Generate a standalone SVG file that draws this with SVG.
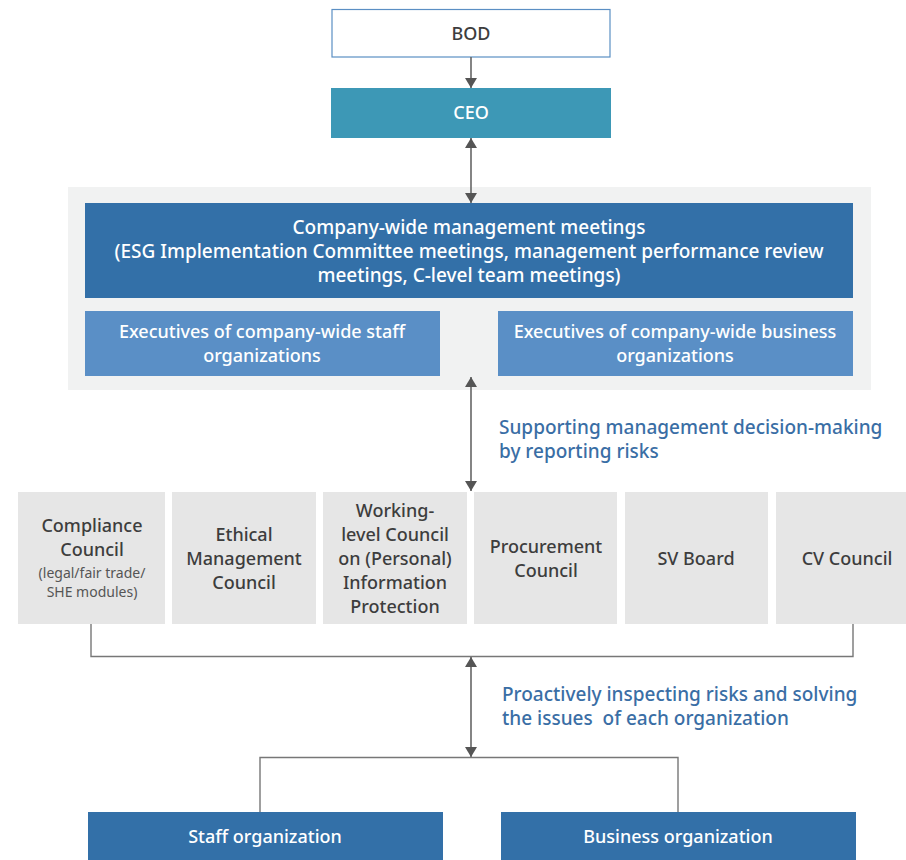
<svg xmlns="http://www.w3.org/2000/svg" width="906" height="860" viewBox="0 0 906 860">
  <style>
    text { font-family: "Noto Sans", "Open Sans", sans-serif; text-anchor: middle; }
    .dark { fill: #3370a8; }
    .light { fill: #5a8fc6; }
    .council { fill: #e6e6e6; }
    .w { fill: #ffffff; font-size: 18px; font-weight: 500; }
    .wl { fill: #ffffff; font-size: 19px; font-weight: 500; }
    .g { fill: #3d3d3d; font-size: 18px; font-weight: 500; }
    .s { fill: #555555; font-size: 14px; }
    .lbl { fill: #3a6ea5; font-size: 19px; font-weight: 500; text-anchor: start; }
    .line { stroke: #777777; stroke-width: 1.4; fill: none; }
    .arrow { stroke: #666666; stroke-width: 1.6; fill: none; }
  </style>
  <defs>
    <marker id="head" viewBox="0 0 10 12" refX="10" refY="6" markerWidth="10" markerHeight="12" markerUnits="userSpaceOnUse" orient="auto-start-reverse">
      <path d="M0,0 L10,6 L0,12 Z" fill="#555555"/>
    </marker>
  </defs>

  <!-- background panel for management meetings -->
  <rect x="68" y="187" width="803" height="203" fill="#f1f2f2"/>

  <g id="bod">
    <rect x="332" y="9.5" width="278" height="47.5" fill="#ffffff" stroke="#5b8fc4" stroke-width="1.2"/>
    <text class="g" x="471" y="40">BOD</text>
  </g>

  <g id="ceo">
    <rect x="331" y="88" width="280" height="50" fill="#3d98b6"/>
    <text class="w" x="471" y="119">CEO</text>
  </g>

  <g id="meetings">
    <rect class="dark" x="85" y="203" width="768" height="95"/>
    <text class="wl" x="469" y="234">Company-wide management meetings</text>
    <text class="wl" x="469" y="258">(ESG Implementation Committee meetings, management performance review</text>
    <text class="wl" x="469" y="282">meetings, C-level team meetings)</text>
  </g>

  <g id="exec-staff">
    <rect class="light" x="85" y="311" width="355" height="65"/>
    <text class="w" x="262" y="338">Executives of company-wide staff</text>
    <text class="w" x="262" y="362">organizations</text>
  </g>

  <g id="exec-business">
    <rect class="light" x="498" y="311" width="355" height="65"/>
    <text class="w" x="675" y="338">Executives of company-wide business</text>
    <text class="w" x="675" y="362">organizations</text>
  </g>

  <g id="compliance">
    <rect class="council" x="18" y="492" width="147" height="132"/>
    <text class="g" x="92" y="532">Compliance</text>
    <text class="g" x="92" y="556">Council</text>
    <text class="s" x="92" y="578">(legal/fair trade/</text>
    <text class="s" x="92" y="597">SHE modules)</text>
  </g>

  <g id="ethical">
    <rect class="council" x="172" y="492" width="144" height="132"/>
    <text class="g" x="244" y="541">Ethical</text>
    <text class="g" x="244" y="565">Management</text>
    <text class="g" x="244" y="589">Council</text>
  </g>

  <g id="privacy">
    <rect class="council" x="323" y="492" width="144" height="132"/>
    <text class="g" x="395" y="517">Working-</text>
    <text class="g" x="395" y="541">level Council</text>
    <text class="g" x="395" y="565">on (Personal)</text>
    <text class="g" x="395" y="589">Information</text>
    <text class="g" x="395" y="613">Protection</text>
  </g>

  <g id="procurement">
    <rect class="council" x="474" y="492" width="143" height="132"/>
    <text class="g" x="546" y="553">Procurement</text>
    <text class="g" x="546" y="577">Council</text>
  </g>

  <g id="sv-board">
    <rect class="council" x="625" y="492" width="143" height="132"/>
    <text class="g" x="696" y="565">SV Board</text>
  </g>

  <g id="cv-council">
    <rect class="council" x="776" y="492" width="143" height="132"/>
    <text class="g" x="847" y="565">CV Council</text>
  </g>

  <g id="staff-org">
    <rect class="dark" x="88" y="812" width="355" height="48"/>
    <text class="w" x="265" y="843">Staff organization</text>
  </g>

  <g id="business-org">
    <rect class="dark" x="501" y="812" width="355" height="48"/>
    <text class="w" x="678" y="843">Business organization</text>
  </g>

  <g id="connectors">
    <line class="arrow" x1="471" y1="57" x2="471" y2="88" marker-end="url(#head)"/>
    <line class="arrow" x1="471" y1="138" x2="471" y2="203" marker-start="url(#head)" marker-end="url(#head)"/>
    <line class="arrow" x1="471" y1="377" x2="471" y2="491" marker-start="url(#head)" marker-end="url(#head)"/>
    <polyline class="line" points="91,624 91,656.5 853,656.5 853,624"/>
    <line class="arrow" x1="471" y1="657" x2="471" y2="757" marker-start="url(#head)" marker-end="url(#head)"/>
    <polyline class="line" points="260,812 260,757.5 678,757.5 678,812"/>
    <text class="lbl" x="499" y="434">Supporting management decision-making</text>
    <text class="lbl" x="499" y="458">by reporting risks</text>
    <text class="lbl" x="502" y="701">Proactively inspecting risks and solving</text>
    <text class="lbl" x="502" y="725" xml:space="preserve">the issues  of each organization</text>
  </g>
</svg>
